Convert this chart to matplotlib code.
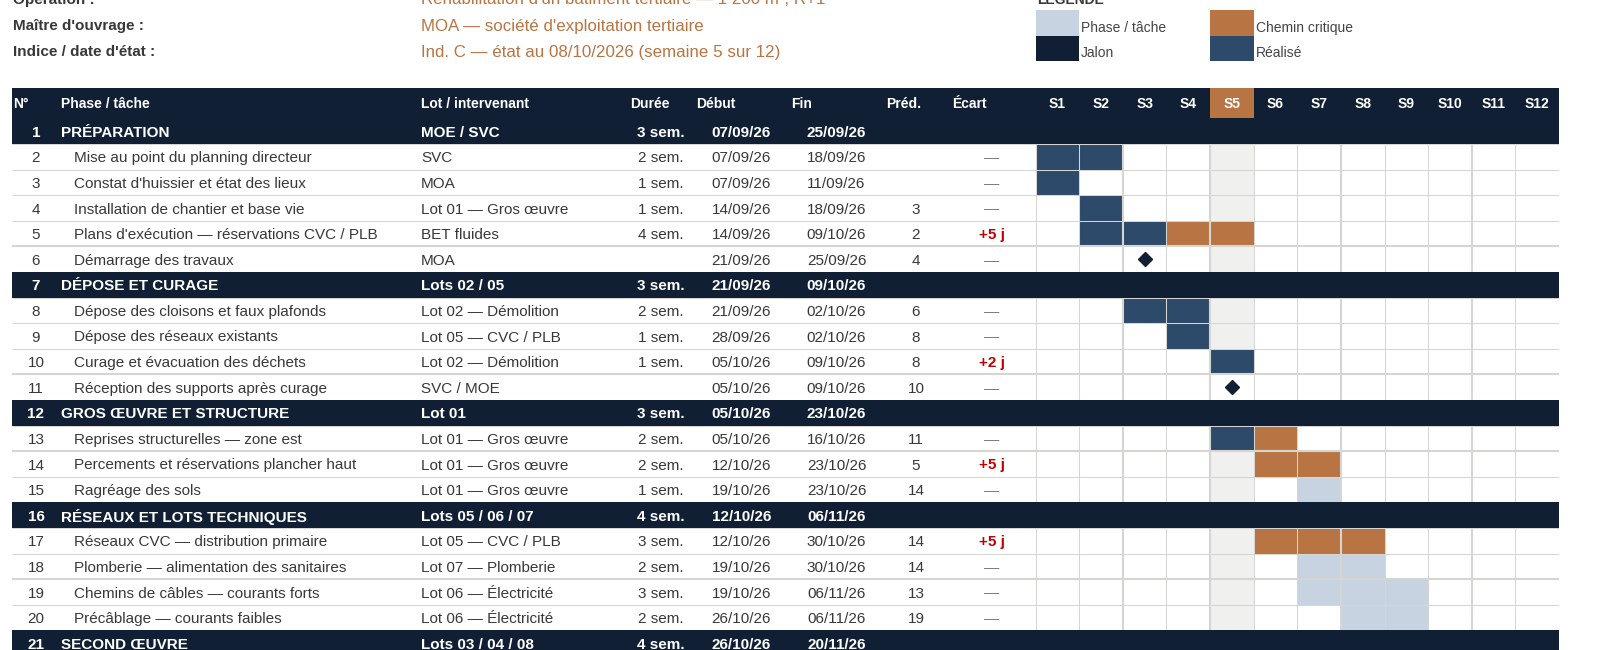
import matplotlib.pyplot as plt
from matplotlib.patches import Rectangle

plt.rcParams['font.family'] = ['Liberation Sans', 'DejaVu Sans']

NAVY = '#111f35'
DONE = '#2e4a6b'
CRIT = '#b87543'
PHASE = '#c7d3e1'
TODAY = '#f0f0ee'
GRID = '#d5d5d1'
TXT = '#383838'
RED = '#c00000'

# ---- data ----
info_labels = ["Opération :", "Maître d'ouvrage :", "Indice / date d'état :"]
info_values = ["Réhabilitation d'un bâtiment tertiaire — 1 200 m², R+1",
               "MOA — société d'exploitation tertiaire",
               "Ind. C — état au 08/10/2026 (semaine 5 sur 12)"]
columns = ["N°", "Phase / tâche", "Lot / intervenant", "Durée", "Début",
           "Fin", "Préd.", "Écart"]
weeks = ["S%d" % i for i in range(1, 13)]
current_week = 5
legend_items = ["Phase / tâche", "Jalon", "Chemin critique", "Réalisé"]

nums = list(range(1, 22))
is_group = [True, False, False, False, False, False,
            True, False, False, False, False,
            True, False, False, False,
            True, False, False, False, False,
            True]
tasks = ["PRÉPARATION",
         "Mise au point du planning directeur",
         "Constat d'huissier et état des lieux",
         "Installation de chantier et base vie",
         "Plans d'exécution — réservations CVC / PLB",
         "Démarrage des travaux",
         "DÉPOSE ET CURAGE",
         "Dépose des cloisons et faux plafonds",
         "Dépose des réseaux existants",
         "Curage et évacuation des déchets",
         "Réception des supports après curage",
         "GROS ŒUVRE ET STRUCTURE",
         "Reprises structurelles — zone est",
         "Percements et réservations plancher haut",
         "Ragréage des sols",
         "RÉSEAUX ET LOTS TECHNIQUES",
         "Réseaux CVC — distribution primaire",
         "Plomberie — alimentation des sanitaires",
         "Chemins de câbles — courants forts",
         "Précâblage — courants faibles",
         "SECOND ŒUVRE"]
lots = ["MOE / SVC", "SVC", "MOA", "Lot 01 — Gros œuvre", "BET fluides", "MOA",
        "Lots 02 / 05", "Lot 02 — Démolition", "Lot 05 — CVC / PLB",
        "Lot 02 — Démolition", "SVC / MOE",
        "Lot 01", "Lot 01 — Gros œuvre", "Lot 01 — Gros œuvre", "Lot 01 — Gros œuvre",
        "Lots 05 / 06 / 07", "Lot 05 — CVC / PLB", "Lot 07 — Plomberie",
        "Lot 06 — Électricité", "Lot 06 — Électricité",
        "Lots 03 / 04 / 08"]
durees = ["3 sem.", "2 sem.", "1 sem.", "1 sem.", "4 sem.", "",
          "3 sem.", "2 sem.", "1 sem.", "1 sem.", "",
          "3 sem.", "2 sem.", "2 sem.", "1 sem.",
          "4 sem.", "3 sem.", "2 sem.", "3 sem.", "2 sem.",
          "4 sem."]
debuts = ["07/09/26", "07/09/26", "07/09/26", "14/09/26", "14/09/26", "21/09/26",
          "21/09/26", "21/09/26", "28/09/26", "05/10/26", "05/10/26",
          "05/10/26", "05/10/26", "12/10/26", "19/10/26",
          "12/10/26", "12/10/26", "19/10/26", "19/10/26", "26/10/26",
          "26/10/26"]
fins = ["25/09/26", "18/09/26", "11/09/26", "18/09/26", "09/10/26", "25/09/26",
        "09/10/26", "02/10/26", "02/10/26", "09/10/26", "09/10/26",
        "23/10/26", "16/10/26", "23/10/26", "23/10/26",
        "06/11/26", "30/10/26", "30/10/26", "06/11/26", "06/11/26",
        "20/11/26"]
preds = ["", "", "", "3", "2", "4",
         "", "6", "8", "8", "10",
         "", "11", "5", "14",
         "", "14", "14", "13", "19",
         ""]
ecarts = ["", "—", "—", "—", "+5 j", "—",
          "", "—", "—", "+2 j", "—",
          "", "—", "+5 j", "—",
          "", "+5 j", "—", "—", "—",
          ""]

# gantt cells: row number, first week, number of weeks, kind
bar_rows = [2, 3, 4, 5, 5, 8, 9, 10, 13, 13, 14, 15, 17, 18, 19, 20]
bar_start = [1, 1, 2, 2, 4, 3, 4, 5, 5, 6, 6, 7, 6, 7, 7, 8]
bar_len = [2, 1, 1, 2, 2, 2, 1, 1, 1, 1, 2, 1, 3, 2, 3, 2]
bar_kind = ['done', 'done', 'done', 'done', 'crit', 'done', 'done', 'done',
            'done', 'crit', 'crit', 'phase', 'crit', 'phase', 'phase', 'phase']
milestone_rows = [6, 11]
milestone_week = [3, 5]

kind_color = {'done': DONE, 'crit': CRIT, 'phase': PHASE}

# ---- layout (pixels) ----
W, H = 1600, 650
X0 = 12
GX0, GX1 = 1035.6, 1559.1
HEAD_TOP, HEAD_H = 87.8, 30.6
BODY_TOP = HEAD_TOP + HEAD_H
ROW_H = 25.6
TY = 1.5  # text nudge downwards
head_x = [13.3, 61, 421, 630, 696, 791, 886, 952]
num_cx = 36
task_x, sub_x = 61, 73.5
lot_x = 421
center_x = [661, 741.5, 836.5, 916, 992]
thick_rows = [5, 10, 13, 18]
thick_cols = [2, 4, 7, 10]

fig = plt.figure(figsize=(W / 100, H / 100), dpi=100)
ax = fig.add_axes([0, 0, 1, 1])
ax.set_xlim(0, W)
ax.set_ylim(H, 0)
ax.axis('off')

n_vis = (H - BODY_TOP) / ROW_H
axg = fig.add_axes([GX0 / W, 0, (GX1 - GX0) / W, (H - BODY_TOP) / H])
axg.set_xlim(0, len(weeks))
axg.set_ylim(n_vis, 0)
axg.axis('off')


def row_y(r):
    return BODY_TOP + (r - 0.5) * ROW_H + TY


# info block
info_y = [0, 26, 52.5]
for lab, val, y in zip(info_labels, info_values, info_y):
    ax.text(head_x[0], y, lab, fontsize=11, fontweight='bold', color=TXT,
            va='center')
    ax.text(lot_x, y, val, fontsize=12.2, color=CRIT, va='center')

# legend
ax.text(GX0 + 2, 0.5, "LÉGENDE", fontsize=10, fontweight='bold', color=TXT,
        va='center')
cw = (GX1 - GX0) / len(weeks)
leg_cols = [GX0, GX0, GX0 + (current_week - 1) * cw, GX0 + (current_week - 1) * cw]
leg_rows = [10.2, 35.8, 10.2, 35.8]
leg_colors = [PHASE, NAVY, CRIT, DONE]
for lab, lx, ly, c in zip(legend_items, leg_cols, leg_rows, leg_colors):
    ax.add_patch(Rectangle((lx, ly), cw, 25.6, color=c, lw=0))
    ax.text(lx + cw + 2, ly + 17.5, lab, fontsize=10, color='#444444',
            va='center')

# header row
ax.add_patch(Rectangle((X0, HEAD_TOP), GX1 - X0, HEAD_H, color=NAVY, lw=0))
for lab, x in zip(columns, head_x):
    ax.text(x, HEAD_TOP + HEAD_H / 2 + 1, lab, fontsize=10, fontweight='bold',
            color='white', va='center')
hh = HEAD_H / ROW_H
axg.bar(current_week - 0.5, hh, bottom=-hh, width=1, color=CRIT,
        clip_on=False, zorder=2)
for i, w in enumerate(weeks):
    axg.text(i + 0.5, -hh / 2 + 1 / ROW_H, w, fontsize=10, fontweight='bold',
             color='white', ha='center', va='center', clip_on=False, zorder=3)

# table body
for i, r in enumerate(nums):
    y = row_y(r)
    if is_group[i]:
        ax.add_patch(Rectangle((X0, y - TY - ROW_H / 2), GX0 - X0 + 1, ROW_H,
                               color=NAVY, lw=0, zorder=3))
        kw = dict(fontsize=11, fontweight='bold', color='white', va='center',
                  zorder=4)
        ax.text(num_cx, y, str(r), ha='center', **kw)
        ax.text(task_x, y, tasks[i], **kw)
        ax.text(lot_x, y, lots[i], **kw)
        for x, v in zip(center_x[:3], [durees[i], debuts[i], fins[i]]):
            ax.text(x, y, v, ha='center', **kw)
    else:
        kw = dict(fontsize=11, color=TXT, va='center')
        ax.text(num_cx, y, str(r), ha='center', **kw)
        ax.text(sub_x, y, tasks[i], **kw)
        ax.text(lot_x, y, lots[i], **kw)
        for x, v in zip(center_x[:4], [durees[i], debuts[i], fins[i], preds[i]]):
            ax.text(x, y, v, ha='center', **kw)
        if ecarts[i] == "—":
            ax.text(center_x[4], y, ecarts[i], ha='center', va='center',
                    fontsize=11, color='#7a7a7a')
        else:
            ax.text(center_x[4], y, ecarts[i], ha='center', va='center',
                    fontsize=11, fontweight='bold', color=RED)

# row separators on the text side
for k in range(1, len(nums)):
    lw = 1.5 if k in thick_rows else 0.75
    ax.hlines(BODY_TOP + k * ROW_H, X0, GX0, color=GRID, lw=lw, zorder=1)

# gantt
task_rows = [r for r, g in zip(nums, is_group) if not g]
axg.barh([r - 0.5 for r in task_rows], 1, left=current_week - 1, height=1,
         color=TODAY, lw=0, zorder=1)
for r, s, n, k in zip(bar_rows, bar_start, bar_len, bar_kind):
    axg.barh(r - 0.5, n, left=s - 1, height=1, color=kind_color[k], lw=0,
             zorder=2)
axg.barh([r - 0.5 for r in milestone_rows], 1,
         left=[w - 1 for w in milestone_week], height=1, color='white', lw=0,
         zorder=2)
for k in range(len(weeks) + 1):
    lw = 1.5 if k in thick_cols else 0.75
    axg.vlines(k, 0, n_vis, color=GRID, lw=lw, zorder=3)
for k in range(1, len(nums)):
    lw = 1.5 if k in thick_rows else 0.75
    axg.hlines(k, 0, len(weeks), color=GRID, lw=lw, zorder=3)
group_rows = [r for r, g in zip(nums, is_group) if g]
axg.barh([r - 0.5 for r in group_rows], len(weeks), left=0, height=1,
         color=NAVY, lw=0, zorder=4)
axg.plot([w - 0.5 for w in milestone_week], [r - 0.5 for r in milestone_rows],
         'D', ms=7, color=NAVY, zorder=5)

fig.savefig('out.png', dpi=100)
